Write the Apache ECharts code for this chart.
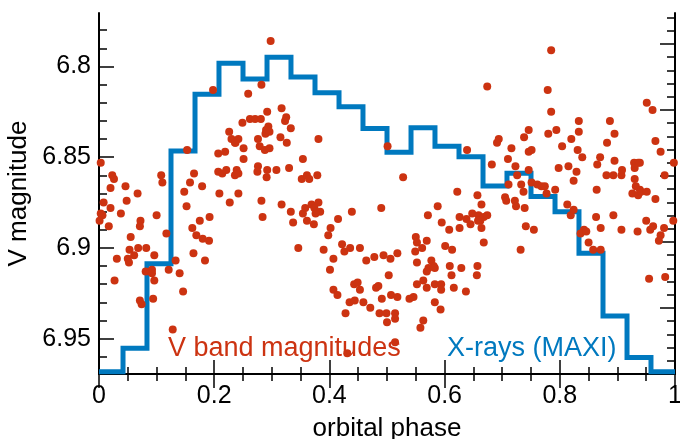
<!DOCTYPE html>
<html>
<head>
<meta charset="utf-8">
<script src="https://cdn.jsdelivr.net/npm/echarts@6/dist/echarts.min.js"></script>
<style>
  html, body { margin: 0; padding: 0; background: #fff; }
  #main { width: 680px; height: 439px; }
</style>
</head>
<body>
<div id="main"></div>
<script>
// V band photometry, folded on the orbital period
var vPhase = [
  0.198,0.153,0.249,0.226,0.230,0.237,0.242,0.236,0.251,0.207,0.219,0.251,0.207,0.214,0.221,0.236,0.239,0.242,0.209,0.227,
  0.242,0.003,0.023,0.026,0.020,0.046,0.067,0.048,0.008,0.020,0.003,0.006,0.001,0.038,0.017,0.072,0.071,0.055,0.053,0.068,
  0.082,0.061,0.050,0.052,0.031,0.096,0.027,0.100,0.117,0.108,0.110,0.165,0.158,0.179,0.148,0.152,0.175,0.192,0.162,0.169,
  0.180,0.191,0.164,0.184,0.133,0.121,0.140,0.146,0.081,0.090,0.092,0.092,0.096,0.071,0.074,0.094,0.128,
  0.298,0.282,0.259,0.292,0.317,0.262,0.271,0.281,0.325,0.323,0.333,0.294,0.290,0.289,0.296,0.315,0.326,0.381,0.276,0.279,
  0.288,0.296,0.354,0.276,0.275,0.292,0.308,0.291,0.330,0.352,0.361,0.365,0.379,0.282,0.284,0.317,0.333,0.337,0.354,0.358,
  0.369,0.381,0.374,0.384,0.376,0.361,0.373,0.439,0.415,0.402,0.398,0.490,0.501,0.422,0.426,0.436,0.453,0.346,0.390,0.407,
  0.401,0.478,0.494,0.464,0.443,0.449,0.453,0.407,0.414,0.481,0.485,0.491,0.435,0.444,0.459,0.471,0.428,0.487,0.499,0.500,
  0.431,
  0.674,0.528,0.639,0.682,0.691,0.694,0.716,0.738,0.746,0.746,0.751,0.710,0.723,0.726,0.746,0.711,0.733,0.737,0.751,0.705,
  0.707,0.722,0.724,0.739,0.622,0.657,0.664,0.588,0.571,0.595,0.608,0.626,0.626,0.638,0.648,0.645,0.659,0.662,0.668,0.674,
  0.658,0.664,0.741,0.732,0.755,0.668,0.550,0.552,0.569,0.549,0.561,0.601,0.613,0.518,0.506,0.552,0.577,0.581,0.572,0.569,
  0.583,0.609,0.629,0.612,0.657,0.656,0.563,0.552,0.569,0.583,0.594,0.594,0.616,0.637,0.503,0.507,0.518,0.539,0.546,0.583,
  0.593,0.514,0.514,0.563,0.558,0.514,
  0.785,0.779,0.785,0.780,0.794,0.833,0.833,0.804,0.820,0.831,0.839,0.798,0.815,0.829,0.824,0.761,0.768,0.774,0.777,0.792,
  0.813,0.819,0.824,0.842,0.836,0.846,0.850,0.858,0.871,0.887,0.895,0.882,0.865,0.870,0.895,0.881,0.893,0.907,0.908,0.864,
  0.863,0.871,0.893,0.907,0.951,0.961,0.966,0.975,0.929,0.936,0.939,0.930,0.982,0.998,0.930,0.932,0.939,0.926,0.936,0.941,
  0.951,0.966,0.950,0.935,0.957,0.962,0.981,0.975,0.972,0.997,0.955,0.983
];
var vMag = [
  6.813,6.846,6.831,6.836,6.840,6.842,6.840,6.842,6.845,6.848,6.847,6.851,6.858,6.859,6.857,6.860,6.857,6.859,6.870,6.875,
  6.870,6.853,6.860,6.862,6.867,6.866,6.870,6.874,6.875,6.878,6.881,6.882,6.885,6.881,6.888,6.885,6.888,6.894,6.901,6.900,
  6.900,6.904,6.906,6.908,6.906,6.904,6.918,6.882,6.892,6.860,6.864,6.859,6.864,6.866,6.869,6.877,6.885,6.883,6.889,6.893,
  6.895,6.896,6.903,6.907,6.907,6.912,6.914,6.924,6.913,6.913,6.912,6.914,6.918,6.929,6.931,6.928,6.945,
  6.786,6.810,6.815,6.825,6.823,6.829,6.829,6.829,6.828,6.830,6.834,6.833,6.835,6.837,6.836,6.839,6.842,6.840,6.840,6.844,
  6.846,6.845,6.851,6.855,6.858,6.857,6.857,6.861,6.856,6.862,6.860,6.862,6.860,6.874,6.883,6.876,6.880,6.886,6.881,6.878,
  6.876,6.875,6.878,6.880,6.881,6.885,6.887,6.880,6.884,6.889,6.893,6.878,6.844,6.898,6.902,6.900,6.900,6.900,6.901,6.906,
  6.912,6.905,6.904,6.907,6.920,6.919,6.923,6.923,6.926,6.922,6.921,6.928,6.930,6.929,6.930,6.933,6.936,6.936,6.936,6.941,
  6.958,
  6.811,6.861,6.846,6.854,6.842,6.840,6.845,6.839,6.835,6.847,6.846,6.851,6.855,6.860,6.857,6.865,6.865,6.869,6.864,6.872,
  6.874,6.874,6.877,6.878,6.869,6.871,6.876,6.877,6.882,6.886,6.890,6.883,6.889,6.884,6.881,6.887,6.882,6.885,6.883,6.882,
  6.885,6.889,6.888,6.901,6.890,6.897,6.894,6.897,6.896,6.902,6.900,6.899,6.901,6.903,6.906,6.908,6.907,6.910,6.911,6.913,
  6.911,6.910,6.911,6.915,6.910,6.915,6.918,6.920,6.922,6.920,6.920,6.923,6.922,6.924,6.915,6.926,6.927,6.928,6.927,6.930,
  6.934,6.936,6.939,6.940,6.944,6.952,
  6.791,6.813,6.825,6.837,6.835,6.830,6.836,6.844,6.840,6.846,6.850,6.856,6.855,6.858,6.863,6.865,6.866,6.866,6.870,6.868,
  6.876,6.882,6.879,6.890,6.892,6.891,6.897,6.901,6.901,6.830,6.837,6.842,6.854,6.850,6.852,6.860,6.860,6.860,6.857,6.868,
  6.883,6.889,6.882,6.890,6.820,6.824,6.841,6.847,6.853,6.853,6.853,6.856,6.860,6.853,6.862,6.866,6.868,6.870,6.871,6.869,
  6.869,6.873,6.885,6.891,6.890,6.888,6.889,6.893,6.896,6.885,6.917,6.916
];

// MAXI X-ray light curve, 24 phase bins (left edges) and rate
var xrayBinStart = [0, 0.0417, 0.0833, 0.125, 0.1667, 0.2083, 0.25, 0.2917, 0.3333, 0.375, 0.4167, 0.4583,
  0.5, 0.5417, 0.5833, 0.625, 0.6667, 0.7083, 0.75, 0.7917, 0.8333, 0.875, 0.9167, 0.9583];
var xrayRate = [0.035, 0.39, 1.67, 3.38, 4.24, 4.71, 4.47, 4.80, 4.50, 4.26, 4.05, 3.72,
  3.36, 3.73, 3.45, 3.29, 2.85, 3.04, 2.69, 2.46, 1.83, 0.88, 0.25, 0.035];

var magTicks = [6.8, 6.85, 6.9, 6.95];
var magMinorTicks = [6.78, 6.79, 6.81, 6.82, 6.83, 6.84, 6.86, 6.87, 6.88, 6.89, 6.91, 6.92, 6.93, 6.94, 6.96];
var rateTicks = [1, 2, 3, 4, 5];
var rateMinorTicks = [0.2, 0.4, 0.6, 0.8, 1.2, 1.4, 1.6, 1.8, 2.2, 2.4, 2.6, 2.8, 3.2, 3.4, 3.6, 3.8,
  4.2, 4.4, 4.6, 4.8, 5.2, 5.4];

var RED = '#cc3311';
var BLUE = '#0079bf';
var FONT = 'Liberation Sans';

var vPoints = vPhase.map(function (p, i) { return [p, vMag[i]]; });
var xrayPoints = xrayBinStart.map(function (p, i) { return [p, xrayRate[i]]; });
xrayPoints.push([1, xrayRate[xrayRate.length - 1]]);

var frame = { lineStyle: { color: '#000', width: 2 } };

var myChart = echarts.init(document.getElementById('main'));
myChart.setOption({
  animation: false,
  grid: { left: 99, top: 13, width: 576, height: 361, containLabel: false, outerBoundsMode: 'none' },
  xAxis: [
    {
      type: 'value', min: 0, max: 1, interval: 0.2, position: 'bottom',
      name: 'orbital phase', nameLocation: 'middle', nameGap: 42,
      nameTextStyle: { fontFamily: FONT, fontSize: 26, color: '#000' },
      axisLine: frame,
      axisTick: { inside: true, length: 14, lineStyle: { color: '#000', width: 1.5 } },
      minorTick: { show: true, splitNumber: 4, length: 7, lineStyle: { color: '#000', width: 1.5 } },
      axisLabel: { fontFamily: FONT, fontSize: 25, color: '#000', margin: 10 },
      splitLine: { show: false }
    },
    {
      type: 'value', min: 0, max: 1, interval: 0.2, position: 'top',
      axisLine: frame,
      axisTick: { inside: true, length: 14, lineStyle: { color: '#000', width: 1.5 } },
      minorTick: { show: true, splitNumber: 4, length: 7, lineStyle: { color: '#000', width: 1.5 } },
      axisLabel: { show: false },
      splitLine: { show: false }
    }
  ],
  yAxis: [
    {
      type: 'value', inverse: true, min: 6.7705, max: 6.9695, position: 'left',
      name: 'V magnitude', nameLocation: 'middle', nameGap: 64,
      nameTextStyle: { fontFamily: FONT, fontSize: 26, color: '#000' },
      axisLine: frame,
      axisTick: { inside: true, length: 15, customValues: magTicks, lineStyle: { color: '#000', width: 1.5 } },
      axisLabel: { fontFamily: FONT, fontSize: 25, color: '#000', margin: 8, customValues: magTicks },
      splitLine: { show: false }
    },
    {
      type: 'value', inverse: true, min: 6.7705, max: 6.9695, position: 'left',
      axisLine: { show: false },
      axisTick: { inside: true, length: 8, customValues: magMinorTicks, lineStyle: { color: '#000', width: 1.5 } },
      axisLabel: { show: false },
      splitLine: { show: false }
    },
    {
      type: 'value', min: 0, max: 5.47, position: 'right',
      axisLine: frame,
      axisTick: { inside: true, length: 15, customValues: rateTicks, lineStyle: { color: '#000', width: 1.5 } },
      axisLabel: { show: false },
      splitLine: { show: false }
    },
    {
      type: 'value', min: 0, max: 5.47, position: 'right',
      axisLine: { show: false },
      axisTick: { inside: true, length: 8, customValues: rateMinorTicks, lineStyle: { color: '#000', width: 1.5 } },
      axisLabel: { show: false },
      splitLine: { show: false }
    }
  ],
  graphic: [
    { type: 'text', left: 168, top: 335, z: 100,
      style: { text: 'V band magnitudes', fill: RED, font: '27px "Liberation Sans"' } },
    { type: 'text', left: 447, top: 335, z: 100,
      style: { text: 'X-rays (MAXI)', fill: BLUE, font: '27px "Liberation Sans"' } }
  ],
  series: [
    {
      name: 'X-rays (MAXI)', type: 'line', xAxisIndex: 0, yAxisIndex: 2,
      step: 'end', symbol: 'none', clip: true, z: 2,
      lineStyle: { color: BLUE, width: 5, join: 'miter' },
      data: xrayPoints
    },
    {
      name: 'V band magnitudes', type: 'scatter', xAxisIndex: 0, yAxisIndex: 0,
      symbolSize: 8, z: 3,
      itemStyle: { color: RED, opacity: 1 },
      data: vPoints
    }
  ]
});
</script>
</body>
</html>
